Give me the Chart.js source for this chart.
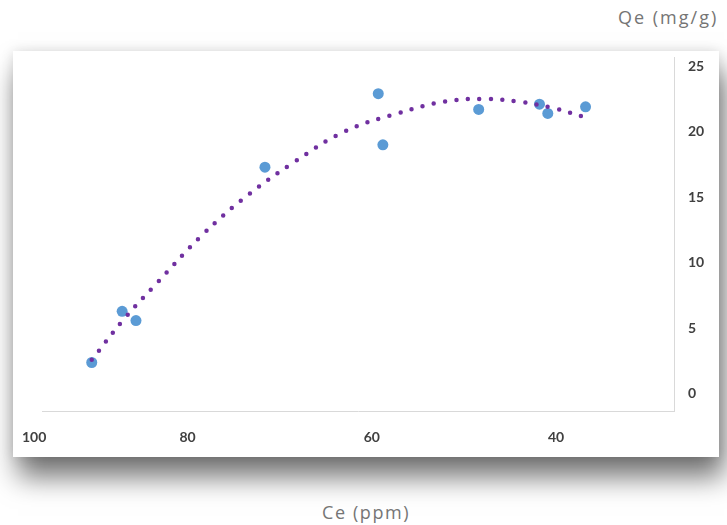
<!DOCTYPE html>
<html>
<head>
<meta charset="utf-8">
<script src="https://cdn.jsdelivr.net/npm/chart.js@4/dist/chart.umd.min.js"></script>
<style>
  html, body { margin: 0; padding: 0; background: #fff; }
  body { width: 727px; height: 525px; position: relative; overflow: hidden; font-family: 'Open Sans', Lato, sans-serif; }
  .box {
    position: absolute; left: 13px; top: 51px; width: 706px; height: 406px;
    background: #fff;
    box-shadow: 5px 20px 26px rgba(0, 0, 0, 0.55), 0 0 12px rgba(0, 0, 0, 0.12);
  }
  .box canvas { position: absolute; left: 0; top: 0; }
  .ytitle { position: absolute; left: 618px; top: 5px; font-size: 18px; line-height: 24px; letter-spacing: 2px; color: #757575; white-space: nowrap; }
  .xtitle { position: absolute; left: 322px; top: 500px; font-size: 18px; line-height: 24px; letter-spacing: 1.6px; color: #757575; white-space: nowrap; }
</style>
</head>
<body>
<div class="ytitle">Qe (mg/g)</div>
<div class="box"><canvas id="isoChart" width="706" height="406"></canvas></div>
<div class="xtitle">Ce (ppm)</div>
<script>
// measured points
const ceValues = [90.4, 87.1, 85.6, 71.6, 59.3, 58.8, 48.4, 41.8, 40.9, 36.8];
const qeValues = [2.4, 6.3, 5.6, 17.3, 22.9, 19.0, 21.7, 22.1, 21.4, 21.9];

// dotted trend line
const trendCe = [90.4, 86.8, 83.4, 78.3, 73.4, 68.4, 63.0, 57.2, 52.1, 48.0, 44.1, 40.3, 36.4];
const trendQe = [2.6, 5.8, 8.4, 12.2, 15.2, 17.7, 20.0, 21.4, 22.3, 22.5, 22.3, 21.8, 21.0];

const xTicks = [100, 80, 60, 40];
const yTicks = [0, 5, 10, 15, 20, 25];

const axisColor = '#d9d9d9';
const labelColor = '#404040';

// no extra room for overhanging labels, the plot box is fixed
function fixSize(scale, w, h) {
  if (w) scale.width = w;
  if (h) scale.height = h;
  scale.paddingLeft = 0;
  scale.paddingRight = 0;
  scale.paddingTop = 0;
  scale.paddingBottom = 0;
}

// keep the edge label inside the white box, like the original
const keepEdgeLabels = {
  id: 'keepEdgeLabels',
  beforeDraw(chart) {
    const ctx = chart.ctx;
    chart.scales.x.getLabelItems().forEach(item => {
      ctx.font = item.font.string;
      const w = ctx.measureText(item.label).width;
      const t = item.options.translation;
      if (t[0] - w / 2 < 9) t[0] = 9 + w / 2;
    });
  }
};

const ctx = document.getElementById('isoChart').getContext('2d');
new Chart(ctx, {
  type: 'scatter',
  data: {
    datasets: [
      {
        label: 'Trend',
        data: trendCe.map((x, i) => ({ x, y: trendQe[i] })),
        showLine: true,
        borderColor: '#7030A0',
        borderWidth: 4.5,
        borderDash: [0, 11.5],
        borderCapStyle: 'round',
        tension: 0.4,
        pointRadius: 0,
        order: 0
      },
      {
        label: 'Qe',
        data: ceValues.map((x, i) => ({ x, y: qeValues[i] })),
        backgroundColor: '#5B9BD5',
        pointBackgroundColor: '#5B9BD5',
        pointBorderWidth: 0,
        pointRadius: 5.5,
        order: 1
      }
    ]
  },
  options: {
    responsive: false,
    animation: false,
    events: [],
    layout: { padding: { left: 29, top: 6, right: 0, bottom: 0 } },
    scales: {
      x: {
        type: 'linear',
        reverse: true,
        min: 27.2,
        max: 95.8,
        afterBuildTicks: scale => { scale.ticks = xTicks.map(v => ({ value: v })); },
        afterFit: scale => fixSize(scale, 0, 46),
        grid: { display: false, drawTicks: false },
        border: { display: true, color: axisColor, width: 1 },
        ticks: {
          padding: 18,
          color: labelColor,
          font: { family: 'Lato', size: 14, weight: 'bold' },
          callback: v => String(v)
        }
      },
      y: {
        position: 'right',
        min: -1.3,
        max: 25.7,
        afterBuildTicks: scale => { scale.ticks = yTicks.map(v => ({ value: v })); },
        afterFit: scale => fixSize(scale, 45, 0),
        grid: { display: false, drawTicks: false },
        border: { display: true, color: axisColor, width: 1 },
        ticks: {
          padding: 14,
          color: labelColor,
          font: { family: 'Lato', size: 14, weight: 'bold' },
          callback: v => String(v)
        }
      }
    },
    plugins: {
      legend: { display: false },
      tooltip: { enabled: false }
    }
  },
  plugins: [keepEdgeLabels]
});
</script>
</body>
</html>
